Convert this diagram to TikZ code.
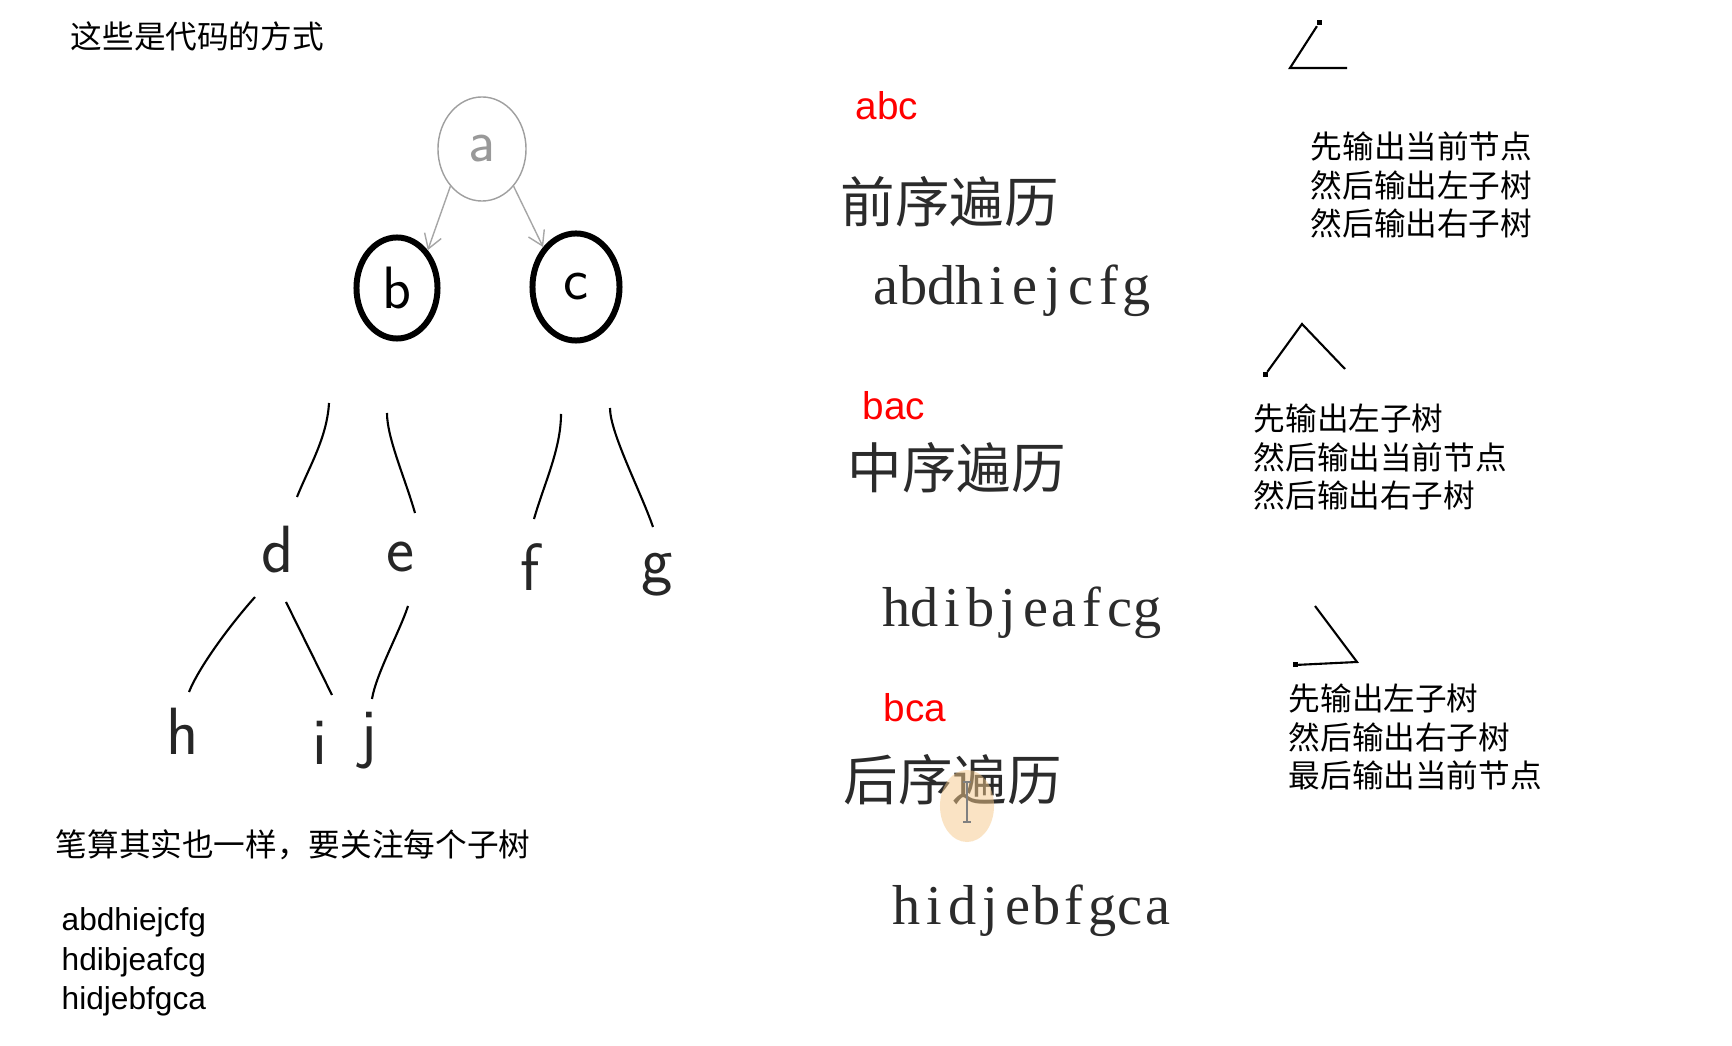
\documentclass[tikz,border=0pt]{standalone}
\usepackage{fontspec}
\setmainfont{Liberation Sans}
\newfontfamily\cjk{Noto Sans CJK SC}
\newfontfamily\serifwide{Liberation Serif}
\usetikzlibrary{arrows.meta,shapes.geometric}
\definecolor{travRed}{HTML}{FF0000}
\definecolor{travInk}{HTML}{2B2B2B}
\definecolor{travGlow}{HTML}{F6C98A}
\newcommand{\monospread}[1]{\foreach \ch in {#1}{\makebox[0.279cm][c]{\ch}}}

\begin{document}
\begin{tikzpicture}[x=0.01cm,y=-0.01cm,every node/.style={inner sep=0pt},
    small cjk/.style={font=\cjk\fontsize{9pt}{11pt}\selectfont,align=left,anchor=west},
    big cjk/.style={font=\cjk\fontsize{15.5pt}{18pt}\selectfont,text=travInk,anchor=west},
    order tag/.style={font=\fontsize{11pt}{13pt}\selectfont,text=travRed,anchor=base west},
    seq wide/.style={font=\serifwide\fontsize{16pt}{18pt}\selectfont,text=travInk,anchor=base west},
    hand/.style={font=\sffamily\fontsize{19pt}{23pt}\selectfont,text=black!85},
    in hand/.style={font=\sffamily\fontsize{17pt}{20pt}\selectfont},
    tree line/.style={line width=0.6pt},
    dotmark/.style={fill,minimum size=0.05cm,inner sep=0pt}]
  \fill[white] (0,0) rectangle (1732,1046);
  \useasboundingbox (0,0) rectangle (1732,1046);

  % notes on the left
  \node[small cjk] (title) at (70,36) {这些是代码的方式};
  \node[small cjk] (hand note) at (55,845) {笔算其实也一样，要关注每个子树};
  \node[font=\fontsize{9pt}{11.3pt}\selectfont,align=left,anchor=west] (hand seqs) at (61,962)
    {abdhiejcfg\\hdibjeafcg\\hidjebfgca};

  % top of the tree
  \node[ellipse,draw=gray!75,line width=0.4pt,minimum width=0.88cm,minimum height=1.04cm,
        in hand,text=gray!80] (a) at (482,149) {a};
  \node[ellipse,draw,line width=1.7pt,minimum width=0.81cm,minimum height=1.01cm,in hand] (b) at (397,288) {b};
  \node[ellipse,draw,line width=1.7pt,minimum width=0.87cm,minimum height=1.07cm,in hand] (c) at (576,287) {c};
  \draw[-{Straight Barb[length=4pt,width=5pt]},gray!70,line width=0.4pt] (a.south west) -- (b.north east);
  \draw[-{Straight Barb[length=4pt,width=5pt]},gray!70,line width=0.4pt] (a.south east) -- (c.north west);

  % lower levels
  \node[hand] (d) at (278,550) {d};
  \node[hand] (e) at (400,557) {e};
  \node[hand] (f) at (530,567) {f};
  \node[hand] (g) at (657,575) {g};
  \node[hand] (h) at (183,731) {h};
  \node[hand] (i) at (320,743) {i};
  \node[hand] (j) at (369,741) {j};

  \coordinate (bd top) at (329,403); \coordinate (bd end) at (297,497);
  \coordinate (be top) at (387,413); \coordinate (be end) at (415,513);
  \coordinate (cf top) at (561,414); \coordinate (cf end) at (534,519);
  \coordinate (cg top) at (610,408); \coordinate (cg end) at (653,527);
  \coordinate (dh top) at (255,597); \coordinate (dh end) at (189,692);
  \coordinate (di top) at (286,602); \coordinate (di end) at (332,695);
  \coordinate (ej top) at (408,606); \coordinate (ej end) at (372,699);
  \draw[tree line] (bd top) .. controls +(-2,35) and +(12,-30) .. (bd end);
  \draw[tree line] (be top) .. controls +(0,25) and +(-10,-35) .. (be end);
  \draw[tree line] (cf top) .. controls +(0,35) and +(10,-35) .. (cf end);
  \draw[tree line] (cg top) .. controls +(0,25) and +(-12,-35) .. (cg end);
  \draw[tree line] (dh top) .. controls +(-25,28) and +(10,-25) .. (dh end);
  \draw[tree line] (di top) -- (di end);
  \draw[tree line] (ej top) .. controls +(-8,25) and +(4,-25) .. (ej end);

  % the three orders
  \node[order tag] (pre tag) at (855,120) {abc};
  \node[big cjk] (pre title) at (840,202) {前序遍历};
  \node[seq wide] (pre seq) at (871,305) {\monospread{a,b,d,h,i,e,j,c,f,g}};

  \node[order tag] (in tag) at (862,420) {bac};
  \node[big cjk] (in title) at (847,468) {中序遍历};
  \node[seq wide] (in seq) at (882,627) {\monospread{h,d,i,b,j,e,a,f,c,g}};

  \node[order tag] (post tag) at (883,722) {bca};
  \node[big cjk] (post title) at (843,780) {后序遍历};
  \node[seq wide] (post seq) at (892,925) {\monospread{h,i,d,j,e,b,f,g,c,a}};

  % cursor glow
  \fill[travGlow,opacity=0.5] (967,806) ellipse [x radius=0.27cm,y radius=0.36cm];
  \draw[gray,line width=0.4pt] (967,782) -- (967,822) (963,782) -- (971,782) (963,822) -- (971,822);

  % rules on the right
  \node[dotmark] (pre dot) at (1319,23) {};
  \coordinate (pre corner) at (1290,68); \coordinate (pre end) at (1347,68);
  \draw[tree line] (pre dot) -- (pre corner) -- (pre end);
  \node[small cjk] (pre rule) at (1310,185) {先输出当前节点\\然后输出左子树\\然后输出右子树};

  \node[dotmark] (in dot) at (1265,375) {};
  \coordinate (in apex) at (1302,324); \coordinate (in end) at (1345,369);
  \draw[tree line] (in dot) -- (in apex) -- (in end);
  \node[small cjk] (in rule) at (1253,457) {先输出左子树\\然后输出当前节点\\然后输出右子树};

  \node[dotmark] (post dot) at (1295,665) {};
  \coordinate (post start) at (1315,606); \coordinate (post corner) at (1357,662);
  \draw[tree line] (post start) -- (post corner) -- (post dot);
  \node[small cjk] (post rule) at (1288,737) {先输出左子树\\然后输出右子树\\最后输出当前节点};
\end{tikzpicture}
\end{document}
